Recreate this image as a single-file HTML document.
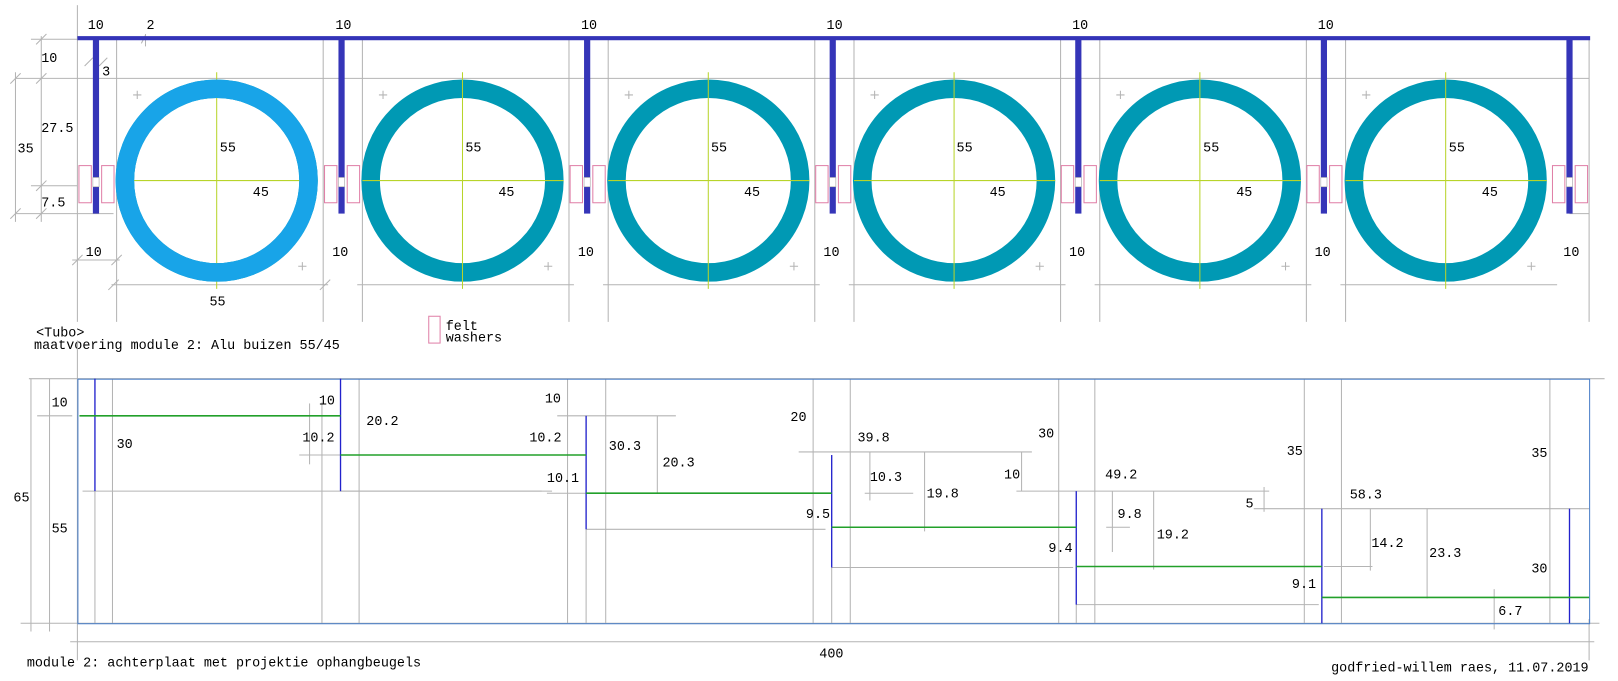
<!DOCTYPE html>
<html><head><meta charset="utf-8"><style>
html,body{margin:0;padding:0;background:#fff;}
svg{display:block;}
text{font-family:"Liberation Mono","DejaVu Sans Mono",monospace;font-size:13px;fill:#000;}
.g{stroke:#b4b4b4;stroke-width:1;fill:none;}
.gr{stroke:#22a02a;stroke-width:1.5;}
.bl{stroke:#2222cc;stroke-width:1.3;}
</style></head><body>
<svg width="1618" height="681" viewBox="0 0 1568 660" preserveAspectRatio="none" xmlns="http://www.w3.org/2000/svg">
<defs>
<g id="mod">
  <line class="g" x1="75" y1="37" x2="75" y2="312"/>
  <line class="g" x1="113" y1="37" x2="113" y2="312"/>
  <line class="g" x1="108" y1="276" x2="318" y2="276"/>
  <circle cx="210" cy="175" r="89" fill="none" stroke="#0099b4" stroke-width="18"/>
  <line x1="210" y1="70" x2="210" y2="280" stroke="#b8d42a" stroke-width="1"/>
  <line x1="113" y1="175" x2="308" y2="175" stroke="#b8d42a" stroke-width="1"/>
  <path d="M129 92h8M133 88v8M289 258h8M293 254v8" stroke="#b4b4b4" stroke-width="1"/>
</g>
<g id="rod">
  <rect x="90" y="38" width="6" height="169" fill="#3535b8"/>
  <rect x="90" y="172" width="6" height="9" fill="#fff" stroke="#aaa" stroke-width="0.6"/>
  <rect x="76.5" y="160.5" width="12" height="36" fill="none" stroke="#e080a8"/>
  <rect x="98.5" y="160.5" width="12" height="36" fill="none" stroke="#e080a8"/>
</g>
</defs>

<line class="g" x1="15" y1="76" x2="1540" y2="76"/>
<line class="g" x1="30" y1="38" x2="1540" y2="38"/>
<line class="g" x1="15" y1="207" x2="110" y2="207"/>
<line class="g" x1="30" y1="180" x2="75" y2="180"/>
<line class="g" x1="15" y1="70" x2="15" y2="215"/>
<line class="g" x1="40" y1="35" x2="40" y2="215"/>
<line class="g" x1="75" y1="5" x2="75" y2="37"/>
<line class="g" x1="70" y1="252" x2="116" y2="252"/>
<line class="g" x1="1540" y1="37" x2="1540" y2="312"/>
<line class="g" x1="1521" y1="207" x2="1540" y2="207"/>
<path d="M10 81l10-10M35 81l10-10M10 212l10-10M35 212l10-10M35 185l10-10M35 43l10-10M137 42l4-8M141 33v12M133 38h16M82 64l8-8M96 64l8-8M70 257l10-10M108 257l10-10M105 281l10-10M310 281l10-10" stroke="#b4b4b4" stroke-width="1"/>

<use href="#mod"/>
<use href="#mod" transform="translate(238.2 0)"/>
<use href="#mod" transform="translate(476.4 0)"/>
<use href="#mod" transform="translate(714.6 0)"/>
<use href="#mod" transform="translate(952.8 0)"/>
<use href="#mod" transform="translate(1191 0)"/>
<circle cx="210" cy="175" r="89" fill="none" stroke="#18a4e8" stroke-width="18"/>

<rect x="75" y="35" width="1466" height="4" fill="#3434b8"/>
<use href="#rod"/>
<use href="#rod" transform="translate(238 0)"/>
<use href="#rod" transform="translate(476 0)"/>
<use href="#rod" transform="translate(714 0)"/>
<use href="#rod" transform="translate(952 0)"/>
<use href="#rod" transform="translate(1190 0)"/>
<use href="#rod" transform="translate(1428 0)"/>

<text x="85" y="28">10</text><text x="142" y="28">2</text>
<text x="325" y="28">10</text><text x="563" y="28">10</text><text x="801" y="28">10</text>
<text x="1039" y="28">10</text><text x="1277" y="28">10</text>
<text x="40" y="60">10</text><text x="99" y="73">3</text>
<text x="40" y="128">27.5</text><text x="17" y="148">35</text><text x="40" y="200">7.5</text>
<text x="83" y="248">10</text><text x="322" y="248">10</text><text x="560" y="248">10</text>
<text x="798" y="248">10</text><text x="1036" y="248">10</text><text x="1274" y="248">10</text><text x="1515" y="248">10</text>
<text x="203" y="296">55</text>
<text x="213" y="147">55</text><text x="245" y="190">45</text>
<text x="451" y="147">55</text><text x="483" y="190">45</text>
<text x="689" y="147">55</text><text x="721" y="190">45</text>
<text x="927" y="147">55</text><text x="959" y="190">45</text>
<text x="1166" y="147">55</text><text x="1198" y="190">45</text>
<text x="1404" y="147">55</text><text x="1436" y="190">45</text>
<text x="35" y="326">&lt;Tubo&gt;</text>
<text x="33" y="338">maatvoering module 2: Alu buizen 55/45</text>
<rect x="415.5" y="306.5" width="11" height="26" fill="none" stroke="#e080a8"/>
<text x="432" y="320">felt</text><text x="432" y="331">washers</text>

<g class="g">
<line x1="20" y1="604" x2="1550" y2="604"/>
<line x1="28" y1="367" x2="1555" y2="367"/>
<line x1="30" y1="367" x2="30" y2="612"/>
<line x1="48" y1="367" x2="48" y2="612"/>
<line x1="36" y1="403" x2="70" y2="403"/>
<line x1="68" y1="622" x2="1545" y2="622"/>
<line x1="75" y1="330" x2="75" y2="640"/>
<line x1="1540" y1="600" x2="1540" y2="640"/>
<line x1="109" y1="367" x2="109" y2="604"/><line x1="92" y1="476" x2="92" y2="604"/>
<line x1="312" y1="390" x2="312" y2="604"/><line x1="348" y1="367" x2="348" y2="604"/>
<line x1="550" y1="367" x2="550" y2="604"/><line x1="587" y1="367" x2="587" y2="604"/>
<line x1="568" y1="513" x2="568" y2="604"/>
<line x1="788" y1="367" x2="788" y2="604"/><line x1="824" y1="367" x2="824" y2="604"/>
<line x1="806" y1="550" x2="806" y2="604"/>
<line x1="1026" y1="367" x2="1026" y2="604"/><line x1="1061" y1="367" x2="1061" y2="604"/>
<line x1="1043" y1="586" x2="1043" y2="604"/>
<line x1="1264" y1="367" x2="1264" y2="604"/><line x1="1300" y1="367" x2="1300" y2="604"/>
<line x1="1502" y1="367" x2="1502" y2="604"/>
<line x1="80" y1="476" x2="525" y2="476"/><line x1="330" y1="476" x2="535" y2="476"/>
<line x1="290" y1="441" x2="330" y2="441"/><line x1="300" y1="391" x2="300" y2="450"/>
<line x1="540" y1="403" x2="655" y2="403"/><line x1="530" y1="478" x2="568" y2="478"/>
<line x1="568" y1="513" x2="800" y2="513"/>
<line x1="637" y1="403" x2="637" y2="478"/>
<line x1="774" y1="438" x2="1000" y2="438"/><line x1="838" y1="478" x2="885" y2="478"/>
<line x1="843" y1="438" x2="843" y2="485"/><line x1="896" y1="438" x2="896" y2="515"/>
<line x1="806" y1="550" x2="1040" y2="550"/>
<line x1="985" y1="476" x2="1230" y2="476"/><line x1="990" y1="438" x2="990" y2="476"/>
<line x1="1072" y1="511" x2="1095" y2="511"/><line x1="1078" y1="476" x2="1078" y2="535"/>
<line x1="1118" y1="476" x2="1118" y2="552"/>
<line x1="1043" y1="586" x2="1278" y2="586"/>
<line x1="1215" y1="493" x2="1540" y2="493"/><line x1="1225" y1="472" x2="1225" y2="496"/>
<line x1="1283" y1="549" x2="1330" y2="549"/><line x1="1328" y1="493" x2="1328" y2="553"/>
<line x1="1383" y1="493" x2="1383" y2="580"/><line x1="1448" y1="571" x2="1448" y2="610"/>
</g>
<rect x="75.5" y="367.5" width="1465" height="237" fill="none" stroke="#4a7ec8" stroke-width="1"/>
<line class="bl" x1="92" y1="367" x2="92" y2="476"/>
<line class="bl" x1="330" y1="367" x2="330" y2="476"/>
<line class="bl" x1="568" y1="403" x2="568" y2="513"/>
<line class="bl" x1="806" y1="441" x2="806" y2="550"/>
<line class="bl" x1="1043" y1="476" x2="1043" y2="586"/>
<line class="bl" x1="1281" y1="493" x2="1281" y2="604"/>
<line class="bl" x1="1521" y1="493" x2="1521" y2="604"/>
<line class="gr" x1="77" y1="403" x2="330" y2="403"/>
<line class="gr" x1="330" y1="441" x2="568" y2="441"/>
<line class="gr" x1="568" y1="478" x2="806" y2="478"/>
<line class="gr" x1="806" y1="511" x2="1043" y2="511"/>
<line class="gr" x1="1043" y1="549" x2="1281" y2="549"/>
<line class="gr" x1="1281" y1="579" x2="1540" y2="579"/>

<text x="13" y="486">65</text><text x="50" y="394">10</text><text x="50" y="516">55</text>
<text x="113" y="434">30</text><text x="309" y="392">10</text><text x="293" y="428">10.2</text>
<text x="355" y="412">20.2</text><text x="528" y="390">10</text><text x="513" y="428">10.2</text>
<text x="530" y="467">10.1</text><text x="590" y="436">30.3</text><text x="642" y="452">20.3</text>
<text x="766" y="408">20</text><text x="831" y="428">39.8</text><text x="843" y="466">10.3</text>
<text x="898" y="482">19.8</text><text x="781" y="502">9.5</text>
<text x="1006" y="424">30</text><text x="973" y="464">10</text><text x="1071" y="464">49.2</text>
<text x="1083" y="502">9.8</text><text x="1121" y="522">19.2</text><text x="1016" y="535">9.4</text>
<text x="1247" y="441">35</text><text x="1207" y="492">5</text><text x="1308" y="483">58.3</text>
<text x="1329" y="530">14.2</text><text x="1385" y="540">23.3</text><text x="1252" y="570">9.1</text>
<text x="1484" y="443">35</text><text x="1484" y="555">30</text><text x="1452" y="596">6.7</text>
<text x="794" y="637">400</text>
<text x="26" y="646">module 2: achterplaat met projektie ophangbeugels</text>
<text x="1290" y="651">godfried-willem raes, 11.07.2019</text>
</svg>
</body></html>
